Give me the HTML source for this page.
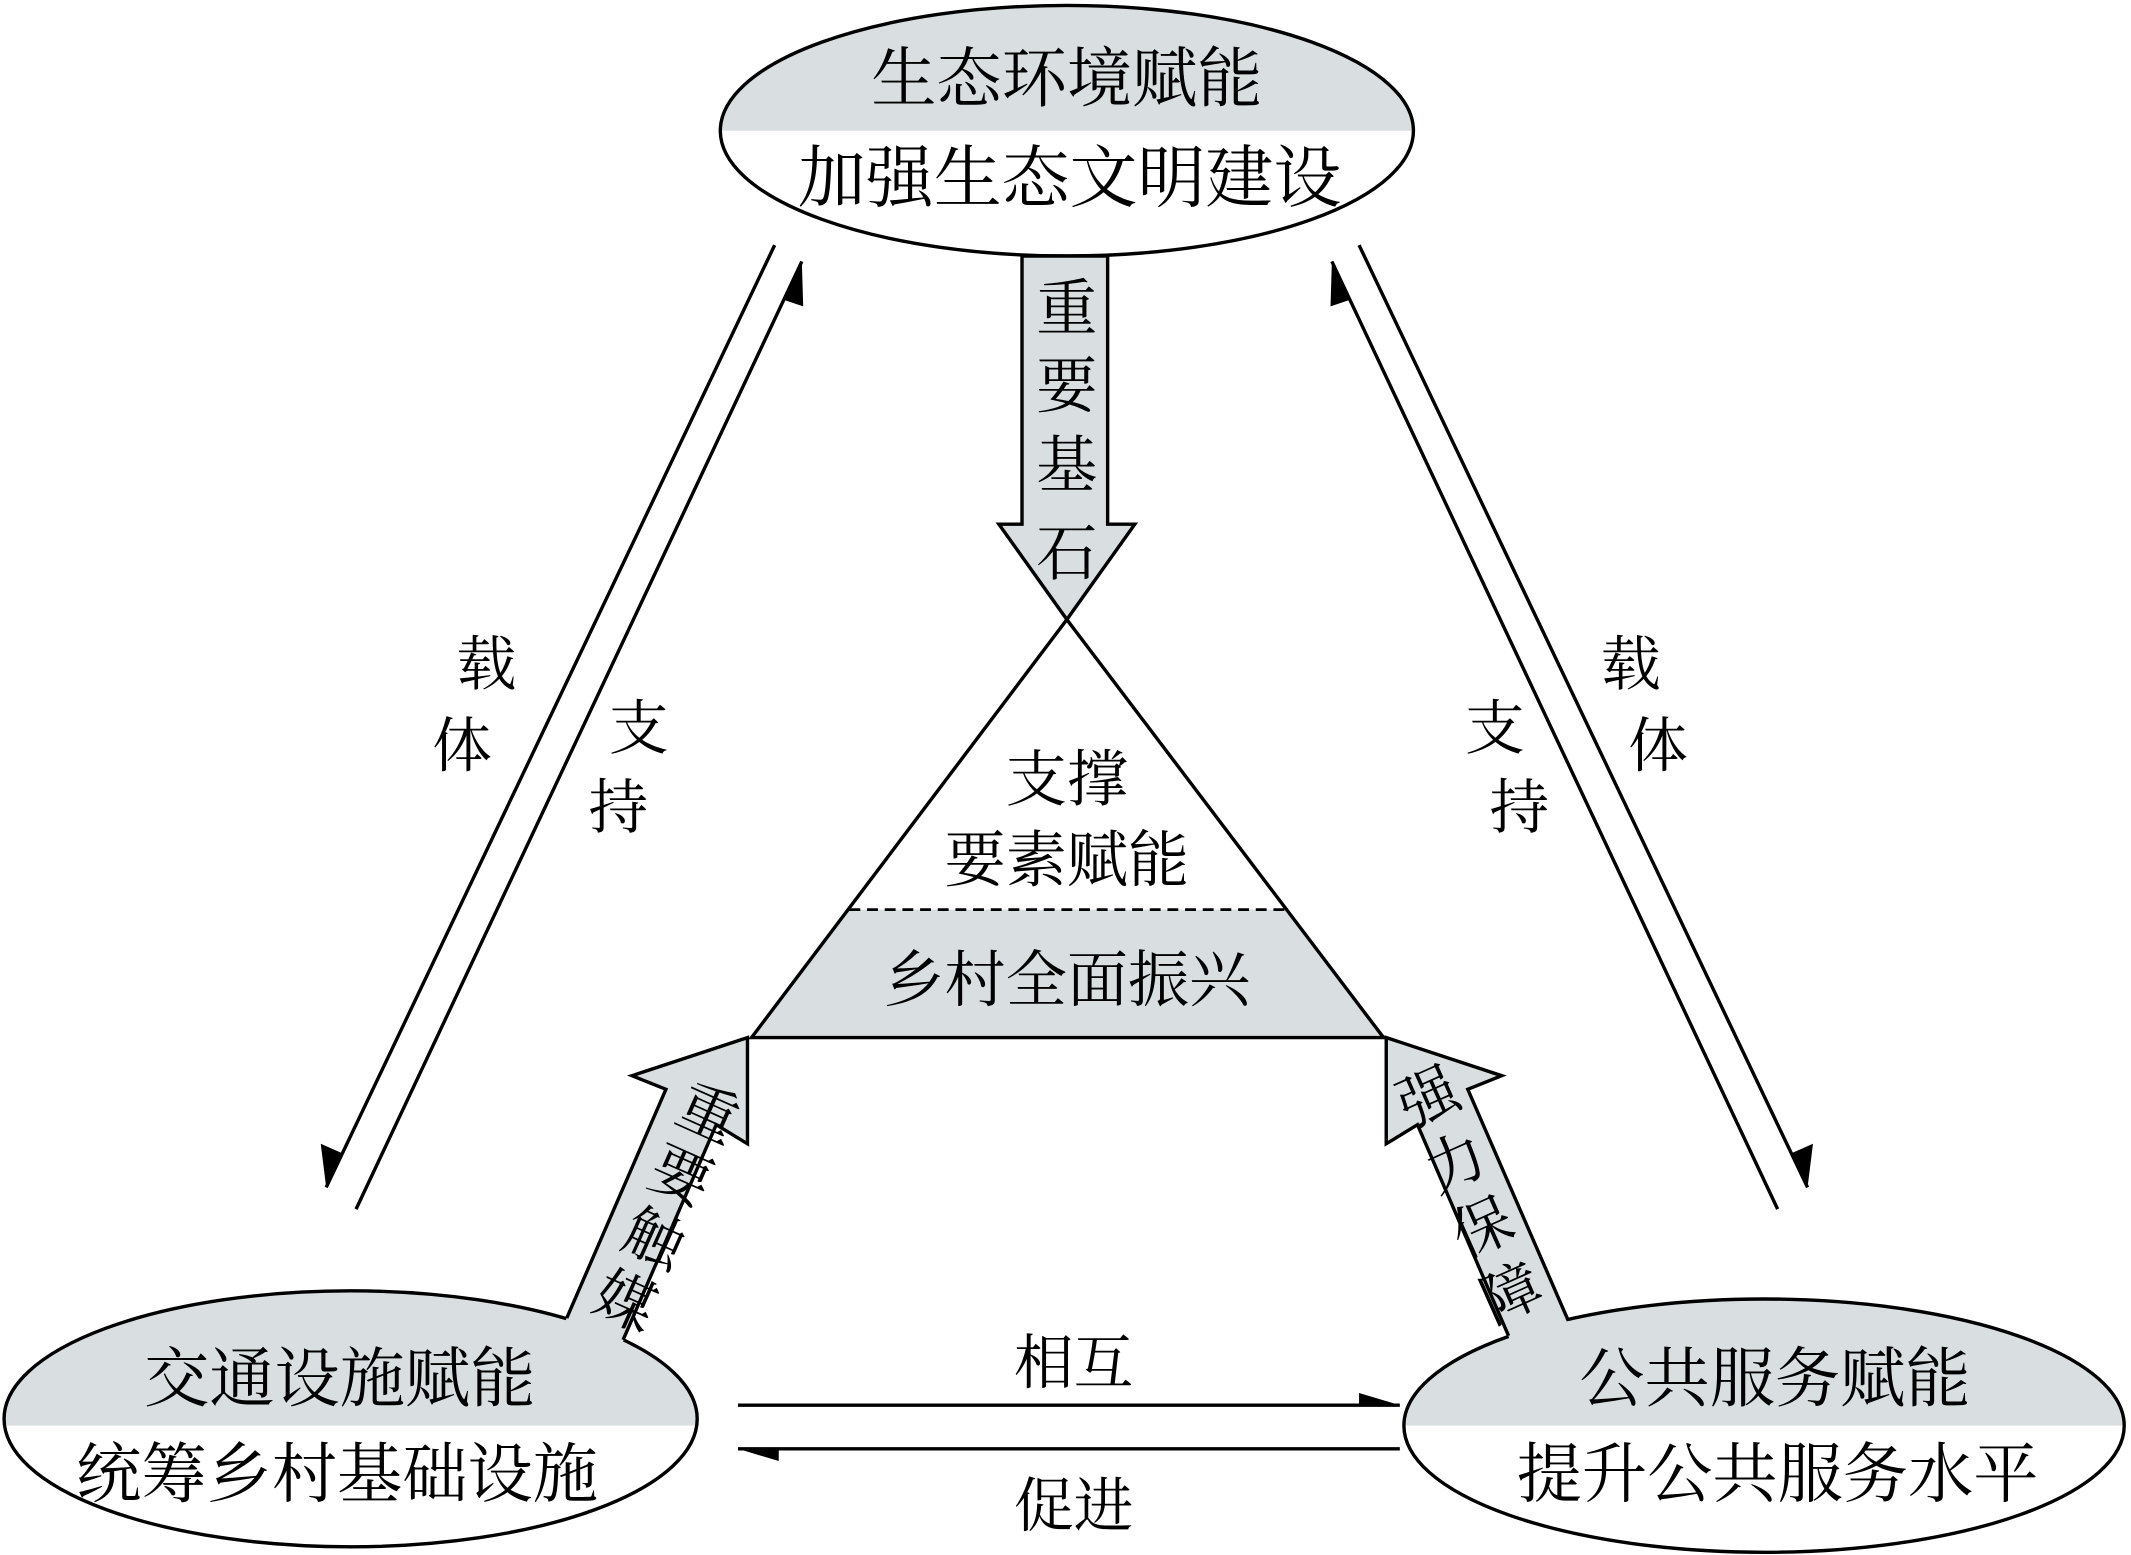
<!DOCTYPE html>
<html><head><meta charset="utf-8">
<style>
html,body{margin:0;padding:0;background:#fff;}
svg{display:block;}
text{font-family:"Liberation Serif","Noto Serif CJK SC",serif;fill:#000;}
</style></head>
<body>
<svg width="2131" height="1555" viewBox="0 0 1568 1142" preserveAspectRatio="none" xmlns="http://www.w3.org/2000/svg">
<defs>
<clipPath id="ct"><rect x="0" y="0" width="1568" height="96"/></clipPath>
<clipPath id="cl"><rect x="0" y="0" width="1568" height="1047"/></clipPath>
</defs>

<!-- top ellipse -->
<ellipse cx="785" cy="96" rx="255" ry="92" fill="#fff"/>
<ellipse cx="785" cy="96" rx="255" ry="92" fill="#d9dfe1" clip-path="url(#ct)"/>
<ellipse cx="785" cy="96" rx="255" ry="92" fill="none" stroke="#000" stroke-width="2.5"/>
<text x="785" y="74" font-size="48" text-anchor="middle">生态环境赋能</text>
<text x="787" y="148" font-size="50" text-anchor="middle">加强生态文明建设</text>

<!-- down block arrow -->
<polygon points="752,188 815,188 815,385 835,385 785,455 735,385 752,385" fill="#d9dfe1" stroke="#000" stroke-width="2.5"/>
<g font-size="45" text-anchor="middle">
<text x="785" y="242">重</text>
<text x="785" y="299">要</text>
<text x="785" y="357">基</text>
<text x="785" y="422">石</text>
</g>

<!-- triangle -->
<polygon points="625,668 946,668 1018,762 553,762" fill="#d9dfe1"/>
<polygon points="785,455 1018,762 553,762" fill="none" stroke="#000" stroke-width="2.5"/>
<line x1="625" y1="668" x2="946" y2="668" stroke="#000" stroke-width="2" stroke-dasharray="8,5"/>
<text x="785" y="588" font-size="45" text-anchor="middle">支撑</text>
<text x="785" y="647" font-size="45" text-anchor="middle">要素赋能</text>
<text x="785" y="735" font-size="45" text-anchor="middle">乡村全面振兴</text>

<!-- bottom-left ellipse -->
<ellipse cx="258" cy="1042" rx="255" ry="94" fill="#fff"/>
<ellipse cx="258" cy="1042" rx="255" ry="94" fill="#d9dfe1" clip-path="url(#cl)"/>
<ellipse cx="258" cy="1042" rx="255" ry="94" fill="none" stroke="#000" stroke-width="2.5"/>
<text x="250" y="1029" font-size="48" text-anchor="middle">交通设施赋能</text>
<text x="248" y="1099" font-size="48" text-anchor="middle">统筹乡村基础设施</text>

<!-- bottom-right ellipse -->
<ellipse cx="1298" cy="1047" rx="265" ry="93" fill="#fff"/>
<ellipse cx="1298" cy="1047" rx="265" ry="93" fill="#d9dfe1" clip-path="url(#cl)"/>
<ellipse cx="1298" cy="1047" rx="265" ry="93" fill="none" stroke="#000" stroke-width="2.5"/>
<text x="1306" y="1029" font-size="48" text-anchor="middle">公共服务赋能</text>
<text x="1308" y="1099" font-size="48" text-anchor="middle">提升公共服务水平</text>

<!-- left block arrow (merged into ellipse) -->
<polygon points="403,1000 490,800 465,790 550,762 550,840 527,826 452,1000" fill="#d9dfe1"/>
<polyline points="417,968 490,800 465,790 550,762 550,840 527,826 458.5,984" fill="none" stroke="#000" stroke-width="2.5"/>
<g font-size="44" text-anchor="middle">
<text transform="translate(521,818) rotate(24)" y="15">重</text>
<text transform="translate(501,864) rotate(24)" y="15">要</text>
<text transform="translate(481,910) rotate(24)" y="15">触</text>
<text transform="translate(460,956) rotate(24)" y="15">媒</text>
</g>

<!-- right block arrow -->
<polygon points="1167,1000 1080,800 1105,790 1020,762 1020,840 1043,826 1118,1000" fill="#d9dfe1"/>
<polyline points="1154,970 1080,800 1105,790 1020,762 1020,840 1043,826 1110,981" fill="none" stroke="#000" stroke-width="2.5"/>
<g font-size="44" text-anchor="middle">
<text transform="translate(1051,806) rotate(-24)" y="15">强</text>
<text transform="translate(1071,854) rotate(-24)" y="15">力</text>
<text transform="translate(1091,902) rotate(-24)" y="15">保</text>
<text transform="translate(1112,950) rotate(-24)" y="15">障</text>
</g>

<!-- long arrows -->
<g stroke="#000" stroke-width="2.5">
<line x1="570" y1="180" x2="240" y2="872"/>
<line x1="590" y1="192" x2="262" y2="888"/>
<line x1="1000" y1="180" x2="1330" y2="872"/>
<line x1="980" y1="192" x2="1308" y2="888"/>
<line x1="543" y1="1032" x2="1030" y2="1032"/>
<line x1="1030" y1="1064" x2="543" y2="1064"/>
</g>
<g fill="#000">
<polygon points="240,872 236,840 252,847"/>
<polygon points="590,192 591,225 576,220"/>
<polygon points="1330,872 1334,840 1318,847"/>
<polygon points="980,192 979,225 994,220"/>
<polygon points="1030,1032 1000,1023 1000,1032"/>
<polygon points="543,1064 573,1073 573,1064"/>
</g>

<g font-size="44" text-anchor="middle">
<text x="358" y="503">载</text>
<text x="340" y="563">体</text>
<text x="470" y="550">支</text>
<text x="455" y="608">持</text>
<text x="1200" y="503">载</text>
<text x="1220" y="563">体</text>
<text x="1100" y="550">支</text>
<text x="1118" y="608">持</text>
<text x="790" y="1016">相互</text>
<text x="790" y="1121">促进</text>
</g>
</svg>
</body></html>
